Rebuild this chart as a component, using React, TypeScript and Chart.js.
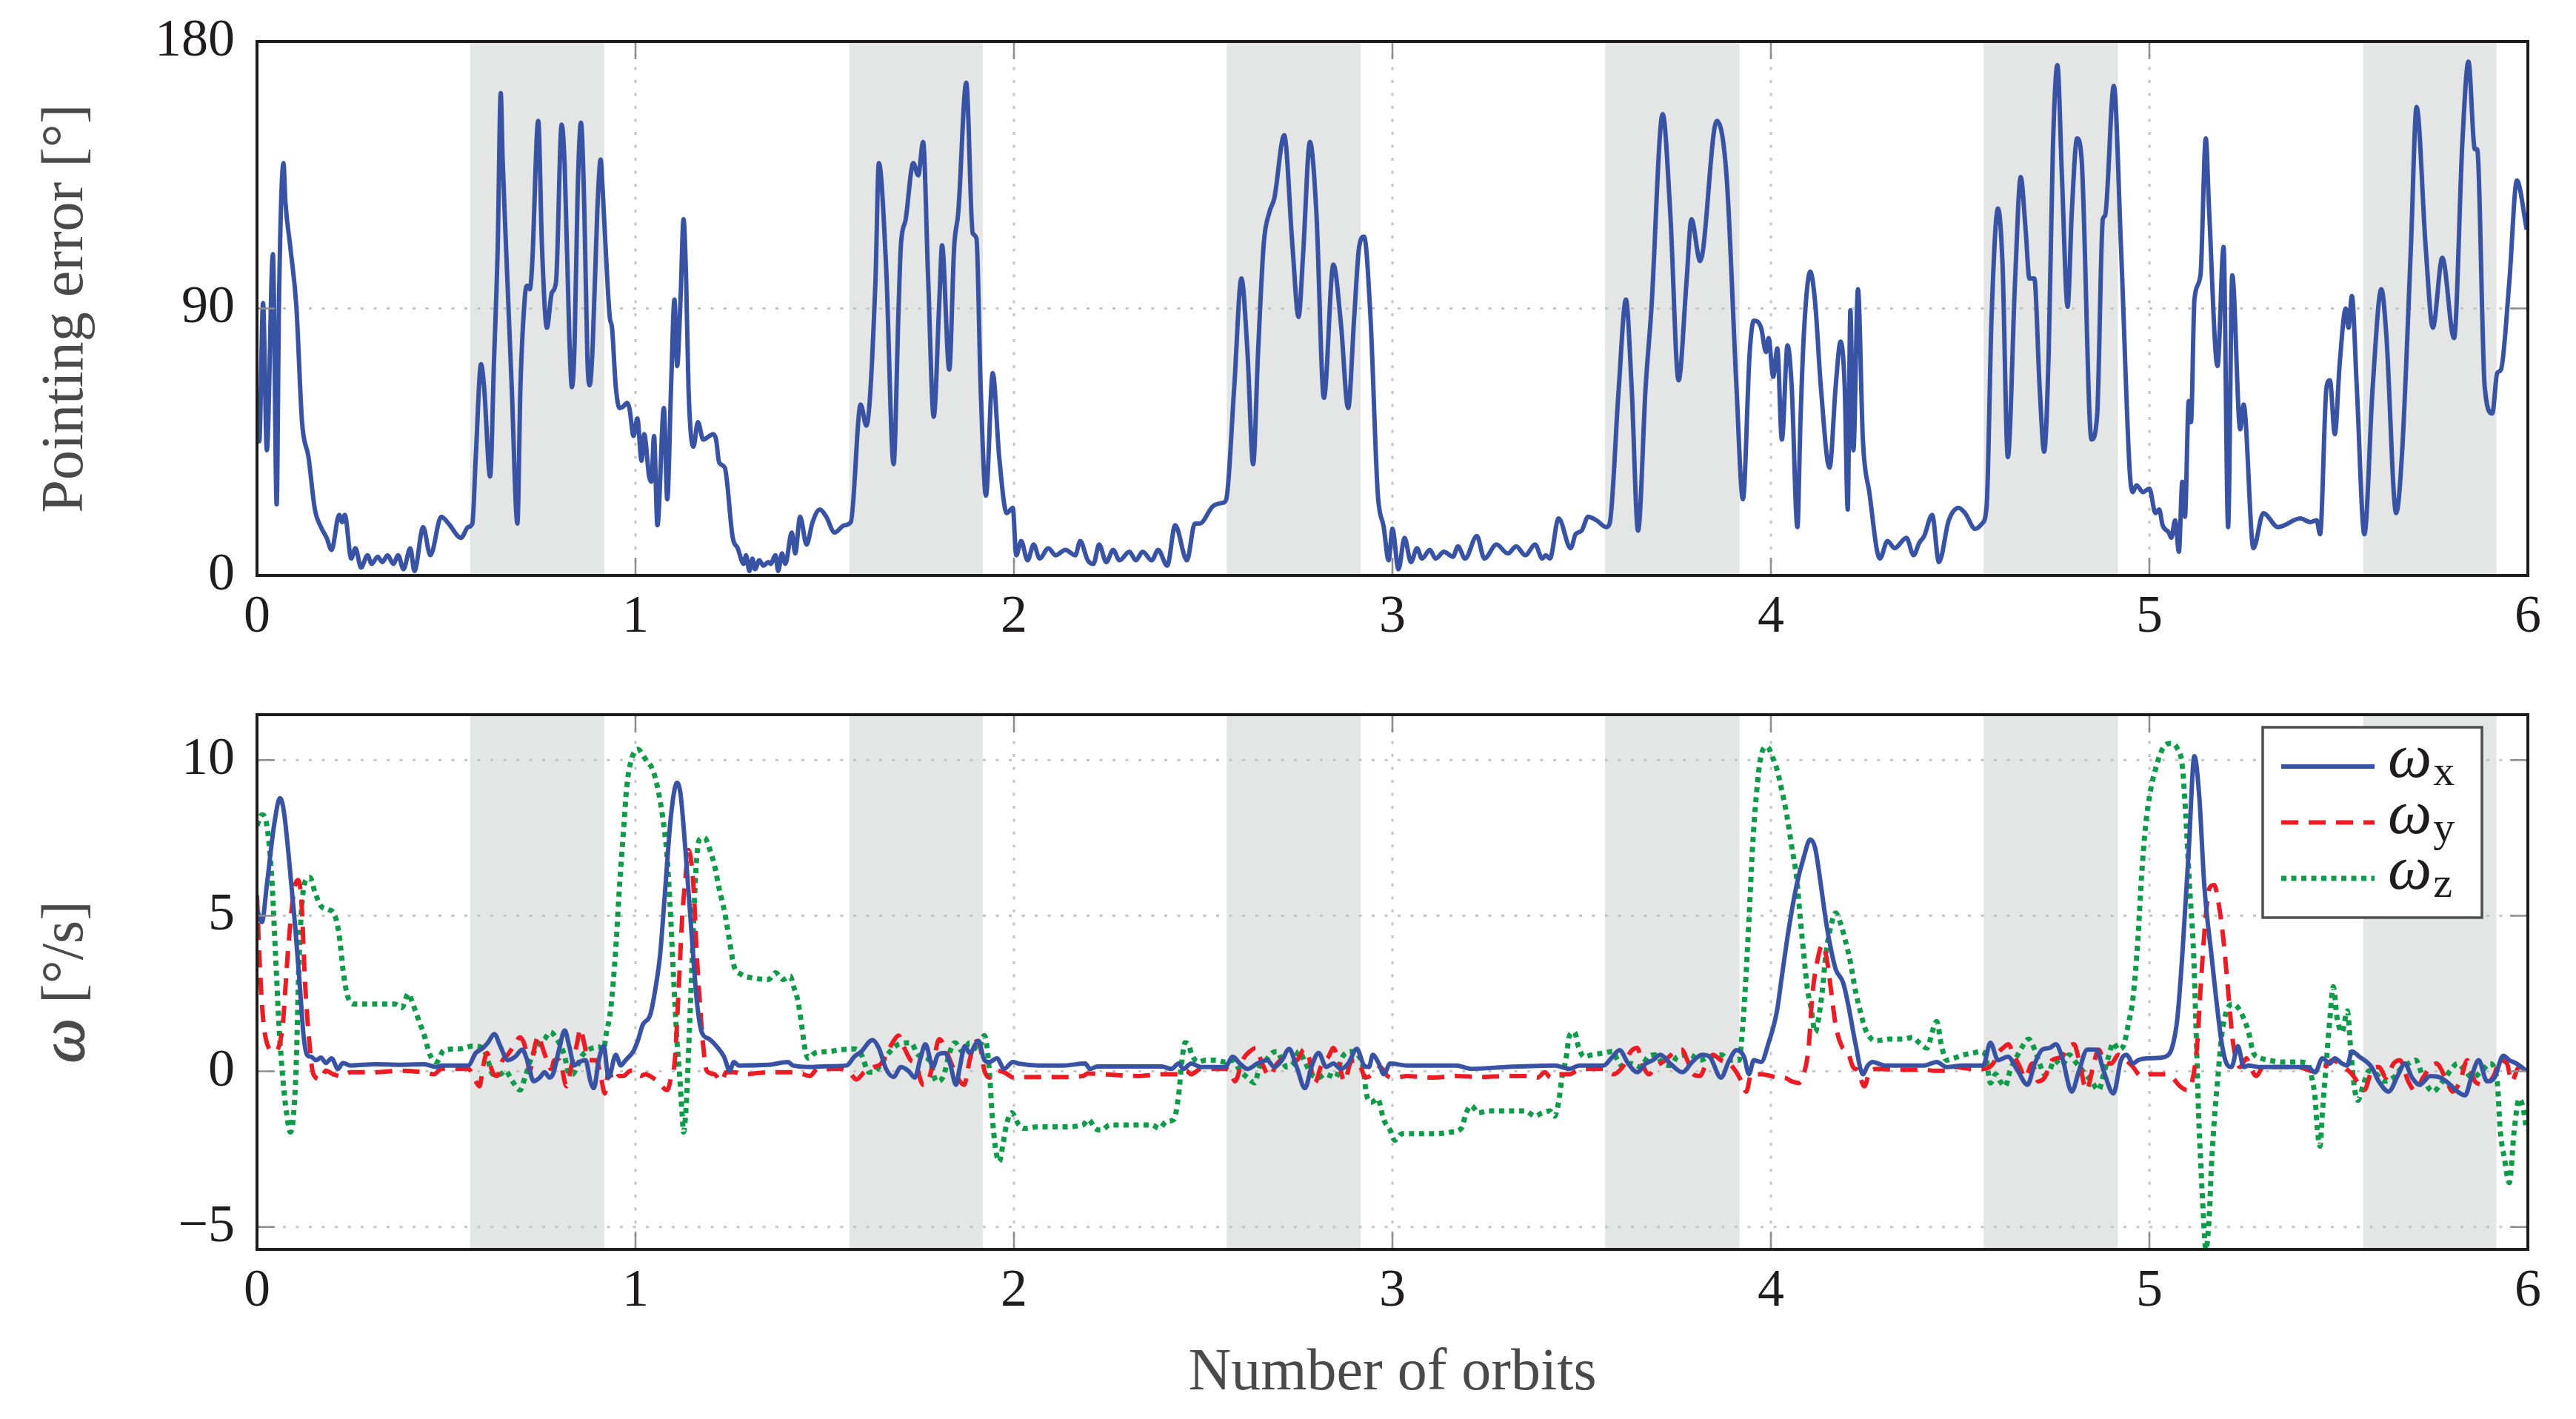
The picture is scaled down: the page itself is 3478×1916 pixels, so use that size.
import React, { useEffect, useRef } from 'react';
import { Chart, registerables } from 'chart.js';

Chart.register(...registerables);

// ---------------- data ----------------
const orbitTicks = [0, 1, 2, 3, 4, 5, 6];
const eclipseStart = [0.563, 1.565, 2.562, 3.562, 4.562, 5.565];
const eclipseEnd = [0.918, 1.918, 2.916, 3.917, 4.917, 5.917];

// [orbit, pointing error in degrees]
const pointingError: [number, number][] = [
  [0.000,58.8],[0.006,45.2],[0.016,91.8],[0.026,42.2],[0.042,108.3],[0.052,24.0],[0.058,91.8],[0.070,139.0],[0.075,126.0],[0.088,110.7],[0.104,90.6],[0.119,51.7],[0.136,39.9],[0.153,22.2],[0.169,16.3],[0.184,12.7],[0.197,8.6],[0.217,20.4],[0.225,18.0],[0.232,20.4],[0.249,5.7],[0.260,9.2],[0.275,2.7],[0.292,6.8],[0.303,3.9],[0.319,6.3],[0.331,4.5],[0.345,6.8],[0.360,3.9],[0.373,6.8],[0.387,2.1],[0.405,9.2],[0.416,1.5],[0.439,16.3],[0.458,6.8],[0.487,19.8],[0.506,17.5],[0.539,12.7],[0.558,16.3],[0.569,17.5],[0.578,39.9],[0.592,71.2],[0.600,63.5],[0.616,33.4],[0.626,71.7],[0.636,110.7],[0.644,162.6],[0.649,140.2],[0.658,110.7],[0.673,63.5],[0.688,17.5],[0.696,63.5],[0.708,94.2],[0.714,97.7],[0.721,96.5],[0.727,104.8],[0.743,153.2],[0.753,110.7],[0.766,83.5],[0.779,95.3],[0.790,98.9],[0.805,152.0],[0.813,137.8],[0.825,81.2],[0.832,63.5],[0.839,77.6],[0.847,128.4],[0.856,152.6],[0.865,122.5],[0.873,72.9],[0.879,64.1],[0.887,77.6],[0.899,122.5],[0.908,140.2],[0.913,130.7],[0.922,108.3],[0.932,87.1],[0.938,83.5],[0.948,63.5],[0.958,56.4],[0.968,57.0],[0.978,58.2],[0.984,56.4],[0.995,47.0],
  [1.005,52.9],[1.016,38.7],[1.023,47.6],[1.036,33.4],[1.042,31.6],[1.049,47.0],[1.058,16.9],[1.075,56.4],[1.084,25.7],[1.094,63.5],[1.103,93.0],[1.110,70.6],[1.119,93.0],[1.127,120.1],[1.134,98.9],[1.140,63.5],[1.153,43.4],[1.165,51.7],[1.179,45.8],[1.195,47.0],[1.205,47.6],[1.213,45.8],[1.221,38.1],[1.236,36.3],[1.257,12.7],[1.270,9.2],[1.286,3.9],[1.292,6.8],[1.301,1.5],[1.309,5.7],[1.316,2.1],[1.327,5.1],[1.338,3.3],[1.351,4.5],[1.357,3.9],[1.370,6.8],[1.377,1.5],[1.387,7.4],[1.396,3.9],[1.413,14.5],[1.422,7.4],[1.435,19.8],[1.452,10.4],[1.468,18.0],[1.487,22.2],[1.504,19.8],[1.526,14.5],[1.552,16.9],[1.569,18.0],[1.595,57.6],[1.610,50.5],[1.634,98.9],[1.643,139.0],[1.662,104.8],[1.682,37.5],[1.695,89.4],[1.701,110.7],[1.714,120.1],[1.734,139.0],[1.747,134.9],[1.760,146.1],[1.773,101.2],[1.788,53.5],[1.803,93.0],[1.810,111.3],[1.829,69.4],[1.842,110.7],[1.853,122.5],[1.874,166.1],[1.891,115.4],[1.901,113.6],[1.912,63.5],[1.926,26.9],[1.944,68.2],[1.961,39.9],[1.981,21.0],[1.997,22.8],
  [2.006,6.8],[2.019,11.6],[2.036,5.1],[2.052,10.4],[2.068,5.7],[2.091,9.2],[2.110,6.8],[2.136,8.6],[2.162,6.8],[2.175,11.6],[2.195,5.1],[2.210,3.9],[2.225,10.4],[2.244,4.5],[2.262,8.6],[2.279,5.1],[2.305,8.0],[2.322,5.1],[2.340,8.0],[2.364,5.1],[2.381,8.6],[2.405,3.3],[2.426,16.9],[2.457,5.1],[2.478,17.5],[2.491,17.5],[2.526,23.4],[2.552,24.5],[2.561,25.7],[2.582,63.5],[2.601,100.1],[2.617,75.3],[2.632,37.5],[2.645,75.3],[2.660,111.9],[2.675,122.5],[2.688,127.2],[2.714,148.4],[2.736,110.7],[2.752,87.1],[2.764,108.3],[2.782,146.1],[2.799,122.5],[2.819,59.9],[2.844,104.8],[2.864,84.7],[2.883,56.4],[2.899,87.1],[2.912,110.7],[2.925,114.2],[2.942,87.1],[2.961,28.1],[2.977,16.3],[2.990,5.1],
  [3.000,15.7],[3.016,2.1],[3.032,12.7],[3.049,4.5],[3.065,9.2],[3.078,5.7],[3.099,8.6],[3.114,5.7],[3.136,8.0],[3.160,6.3],[3.173,9.8],[3.192,5.7],[3.223,13.3],[3.243,5.7],[3.275,10.4],[3.305,7.4],[3.327,9.8],[3.351,6.8],[3.377,10.4],[3.396,5.7],[3.405,6.8],[3.416,5.7],[3.439,19.2],[3.471,9.2],[3.484,13.9],[3.500,15.1],[3.517,19.8],[3.539,18.6],[3.565,16.3],[3.574,17.5],[3.597,61.1],[3.617,93.0],[3.632,63.5],[3.649,15.1],[3.669,63.5],[3.684,89.4],[3.714,155.5],[3.734,122.5],[3.756,65.8],[3.777,98.9],[3.790,120.1],[3.813,106.0],[3.857,153.2],[3.883,134.3],[3.909,63.5],[3.926,25.7],[3.944,75.3],[3.955,85.9],[3.974,83.5],[3.987,75.3],[3.994,80.0],
  [4.006,67.0],[4.017,76.5],[4.029,45.8],[4.044,77.6],[4.055,63.5],[4.070,16.3],[4.078,51.7],[4.087,81.2],[4.104,102.4],[4.117,91.8],[4.132,63.5],[4.155,36.3],[4.171,63.5],[4.184,78.8],[4.195,63.5],[4.203,22.2],[4.210,89.4],[4.218,42.2],[4.230,96.5],[4.243,45.8],[4.260,28.1],[4.288,5.7],[4.308,11.6],[4.327,9.2],[4.358,12.7],[4.377,6.8],[4.392,11.0],[4.405,13.3],[4.426,20.4],[4.444,4.5],[4.470,18.6],[4.496,22.8],[4.513,21.0],[4.540,15.7],[4.558,17.5],[4.570,23.4],[4.583,87.1],[4.600,123.7],[4.612,104.8],[4.626,39.9],[4.645,98.9],[4.660,134.3],[4.673,116.6],[4.683,100.1],[4.696,100.1],[4.710,63.5],[4.722,41.7],[4.734,75.3],[4.745,143.7],[4.757,172.0],[4.769,134.3],[4.784,90.6],[4.795,122.5],[4.809,147.3],[4.821,140.2],[4.847,45.8],[4.862,54.0],[4.877,120.1],[4.883,121.3],[4.906,165.0],[4.925,110.7],[4.948,35.2],[4.956,28.1],[4.966,30.4],[4.983,28.1],
  [5.000,29.3],[5.016,21.0],[5.026,22.2],[5.035,16.9],[5.051,14.5],[5.058,12.7],[5.068,18.6],[5.078,8.0],[5.087,31.6],[5.094,19.8],[5.104,58.8],[5.110,51.7],[5.119,93.0],[5.135,101.2],[5.149,147.3],[5.158,122.5],[5.180,70.6],[5.196,110.7],[5.208,16.3],[5.219,101.2],[5.240,49.3],[5.249,57.6],[5.275,9.2],[5.301,21.0],[5.340,16.3],[5.399,19.2],[5.425,18.0],[5.442,18.6],[5.451,13.9],[5.468,63.5],[5.477,65.8],[5.490,47.6],[5.503,71.7],[5.519,90.0],[5.526,83.5],[5.535,94.2],[5.548,63.5],[5.568,13.9],[5.590,63.5],[5.613,96.5],[5.626,81.2],[5.652,21.0],[5.668,42.2],[5.691,110.7],[5.706,157.9],[5.730,110.7],[5.749,83.5],[5.774,107.1],[5.805,80.0],[5.827,146.1],[5.843,173.2],[5.860,143.7],[5.866,143.7],[5.886,63.5],[5.906,54.6],[5.919,68.2],[5.929,69.4],[5.951,98.9],[5.971,133.1],[5.997,116.6],
];

// [orbit, angular rate in deg/s]
const omegaX: [number, number][] = [
  [0.000,5.20],[0.013,4.80],[0.026,5.99],[0.045,7.90],[0.061,8.78],[0.071,8.35],[0.084,6.89],[0.101,4.64],[0.114,2.61],[0.123,1.15],[0.132,0.53],[0.143,0.47],[0.156,0.36],[0.169,0.44],[0.182,0.27],[0.197,0.42],[0.214,0.08],[0.227,0.27],[0.247,0.19],[0.312,0.23],[0.377,0.21],[0.442,0.23],[0.474,0.14],[0.487,0.19],[0.558,0.19],[0.578,0.59],[0.597,0.75],[0.610,0.92],[0.627,1.20],[0.643,0.81],[0.662,0.36],[0.682,0.47],[0.701,0.70],[0.714,0.36],[0.731,-0.32],[0.747,-0.20],[0.760,-0.03],[0.773,-0.20],[0.782,-0.09],[0.799,0.75],[0.813,1.32],[0.825,0.81],[0.838,0.19],[0.851,0.30],[0.868,0.36],[0.881,-0.32],[0.890,-0.54],[0.903,0.36],[0.916,0.81],[0.929,-0.20],[0.948,0.53],[0.961,0.19],[0.974,0.36],[0.994,0.64],
  [1.006,0.98],[1.019,1.49],[1.039,1.82],[1.052,2.61],[1.065,3.74],[1.078,5.76],[1.094,8.24],[1.110,9.27],[1.119,8.91],[1.132,7.11],[1.149,4.30],[1.162,2.27],[1.175,1.26],[1.195,1.04],[1.214,0.81],[1.234,0.47],[1.249,0.02],[1.260,0.30],[1.273,0.19],[1.351,0.21],[1.403,0.30],[1.416,0.19],[1.468,0.14],[1.494,0.16],[1.558,0.19],[1.578,0.47],[1.597,0.64],[1.626,1.01],[1.643,0.75],[1.662,0.08],[1.682,-0.18],[1.701,0.14],[1.721,0.02],[1.738,-0.20],[1.753,0.42],[1.766,0.87],[1.786,0.14],[1.799,0.53],[1.818,0.59],[1.831,0.25],[1.847,-0.43],[1.857,0.14],[1.870,0.81],[1.883,0.59],[1.906,0.98],[1.922,0.36],[1.935,0.30],[1.955,0.42],[1.974,0.08],[1.997,0.30],
  [2.013,0.25],[2.065,0.19],[2.130,0.19],[2.188,0.25],[2.201,0.08],[2.221,0.16],[2.390,0.16],[2.416,0.08],[2.435,0.25],[2.448,0.08],[2.468,0.25],[2.494,0.14],[2.558,0.14],[2.578,0.47],[2.597,0.25],[2.617,0.08],[2.643,0.25],[2.669,0.36],[2.688,0.14],[2.708,0.36],[2.727,0.72],[2.747,0.14],[2.769,-0.54],[2.786,0.14],[2.805,0.59],[2.825,0.14],[2.844,0.25],[2.864,0.08],[2.883,0.25],[2.906,0.72],[2.925,0.19],[2.938,0.14],[2.948,0.53],[2.964,0.25],[2.977,-0.09],[2.994,0.25],
  [3.039,0.19],[3.169,0.19],[3.208,0.08],[3.299,0.14],[3.429,0.19],[3.468,0.08],[3.494,0.19],[3.558,0.19],[3.578,0.42],[3.600,0.68],[3.623,0.25],[3.647,-0.03],[3.669,0.25],[3.688,0.36],[3.708,0.53],[3.734,0.25],[3.766,-0.03],[3.792,0.30],[3.818,0.53],[3.838,0.47],[3.868,-0.20],[3.890,0.36],[3.909,0.68],[3.929,0.47],[3.942,-0.09],[3.955,0.36],[3.974,0.30],[3.994,0.92],
  [4.016,1.94],[4.029,3.06],[4.048,4.64],[4.068,5.99],[4.087,6.89],[4.104,7.45],[4.117,7.17],[4.132,5.99],[4.145,4.86],[4.158,3.96],[4.171,3.29],[4.191,2.84],[4.204,2.16],[4.223,0.92],[4.243,-0.09],[4.256,0.19],[4.269,0.30],[4.301,0.19],[4.405,0.19],[4.438,0.30],[4.464,0.14],[4.509,0.19],[4.561,0.19],[4.580,0.92],[4.600,0.36],[4.626,0.47],[4.652,0.02],[4.678,-0.43],[4.697,0.25],[4.717,0.70],[4.736,0.75],[4.753,0.87],[4.769,0.47],[4.795,-0.65],[4.814,0.02],[4.836,0.70],[4.860,0.70],[4.879,0.02],[4.905,-0.71],[4.925,0.36],[4.940,0.53],[4.957,0.25],[4.970,0.36],
  [5.003,0.42],[5.042,0.47],[5.061,0.81],[5.074,1.71],[5.087,3.74],[5.104,7.11],[5.119,10.13],[5.132,8.80],[5.145,5.99],[5.164,3.74],[5.191,0.92],[5.204,0.25],[5.217,0.14],[5.234,0.81],[5.249,0.14],[5.262,0.19],[5.288,0.14],[5.418,0.14],[5.438,-0.03],[5.457,0.42],[5.477,0.25],[5.490,0.42],[5.509,0.25],[5.523,0.19],[5.535,0.64],[5.555,0.47],[5.587,0.14],[5.606,-0.32],[5.632,-0.65],[5.658,-0.09],[5.675,0.25],[5.694,-0.20],[5.714,-0.43],[5.742,-0.15],[5.769,-0.20],[5.795,-0.43],[5.814,-0.65],[5.834,-0.77],[5.853,-0.09],[5.870,0.36],[5.892,-0.32],[5.912,-0.20],[5.935,0.50],[5.951,0.36],[5.970,0.25],[5.996,0.02],
];

const omegaY: [number, number][] = [
  [0.000,5.65],[0.006,3.74],[0.016,1.71],[0.029,0.81],[0.045,0.64],[0.058,0.81],[0.068,1.49],[0.081,3.74],[0.097,5.76],[0.108,6.15],[0.117,5.54],[0.127,2.84],[0.136,1.26],[0.149,-0.09],[0.169,-0.26],[0.182,0.02],[0.201,-0.09],[0.221,-0.15],[0.247,-0.03],[0.312,-0.03],[0.377,0.02],[0.442,-0.03],[0.468,-0.09],[0.487,0.08],[0.558,0.08],[0.578,-0.32],[0.588,-0.48],[0.597,0.14],[0.608,0.59],[0.621,0.02],[0.634,-0.15],[0.649,0.36],[0.662,0.53],[0.678,0.81],[0.695,1.09],[0.708,0.81],[0.721,0.02],[0.734,0.81],[0.744,1.15],[0.753,0.81],[0.766,0.36],[0.777,0.08],[0.786,0.36],[0.799,0.36],[0.818,-0.48],[0.831,0.19],[0.844,0.81],[0.855,1.37],[0.864,0.92],[0.877,0.36],[0.896,0.36],[0.909,-0.20],[0.919,-0.71],[0.929,0.02],[0.942,-0.32],[0.955,-0.15],[0.968,-0.15],[0.987,0.02],
  [1.000,0.02],[1.013,-0.15],[1.026,-0.09],[1.045,-0.20],[1.058,-0.32],[1.084,-0.60],[1.094,-0.20],[1.104,0.36],[1.114,2.61],[1.123,4.86],[1.132,6.21],[1.140,7.11],[1.147,6.77],[1.153,5.99],[1.162,3.74],[1.171,2.05],[1.179,0.81],[1.188,0.02],[1.208,-0.09],[1.227,-0.32],[1.240,-0.03],[1.260,-0.03],[1.286,-0.09],[1.351,-0.03],[1.416,-0.03],[1.442,-0.09],[1.461,-0.15],[1.481,0.08],[1.545,0.08],[1.565,-0.03],[1.584,-0.26],[1.604,-0.03],[1.630,0.14],[1.649,0.25],[1.669,0.70],[1.682,0.98],[1.695,1.15],[1.708,0.81],[1.727,0.36],[1.740,0.25],[1.760,-0.43],[1.773,-0.32],[1.786,0.25],[1.803,1.04],[1.816,0.81],[1.831,0.36],[1.851,-0.20],[1.868,-0.43],[1.883,0.36],[1.896,0.92],[1.906,0.98],[1.922,0.02],[1.935,-0.20],[1.955,0.02],[1.974,-0.03],
  [2.000,-0.20],[2.026,-0.18],[2.078,-0.18],[2.130,-0.18],[2.182,-0.15],[2.195,-0.07],[2.260,-0.11],[2.325,-0.15],[2.390,-0.09],[2.442,-0.09],[2.455,0.02],[2.468,-0.09],[2.494,0.08],[2.558,0.08],[2.571,0.02],[2.584,-0.32],[2.604,0.36],[2.623,0.64],[2.639,0.75],[2.656,0.25],[2.675,-0.15],[2.695,0.25],[2.721,0.47],[2.747,0.36],[2.766,0.70],[2.779,0.47],[2.795,-0.37],[2.812,0.19],[2.831,0.47],[2.844,0.75],[2.857,0.36],[2.873,-0.32],[2.890,0.30],[2.903,0.36],[2.916,0.14],[2.929,-0.20],[2.948,-0.09],[2.968,0.14],[2.987,-0.15],
  [3.006,-0.20],[3.039,-0.15],[3.104,-0.20],[3.169,-0.15],[3.234,-0.18],[3.299,-0.15],[3.364,-0.15],[3.383,-0.20],[3.403,-0.03],[3.418,-0.20],[3.442,-0.09],[3.468,-0.09],[3.487,0.02],[3.519,0.08],[3.558,0.08],[3.584,-0.09],[3.608,0.14],[3.630,0.64],[3.647,0.75],[3.662,0.19],[3.678,-0.09],[3.695,0.14],[3.721,0.36],[3.747,0.64],[3.764,0.70],[3.779,0.36],[3.795,-0.09],[3.812,-0.15],[3.831,0.30],[3.847,0.53],[3.868,0.36],[3.890,0.25],[3.909,-0.03],[3.922,-0.32],[3.935,-0.65],[3.948,-0.09],[3.974,-0.09],
  [4.000,-0.15],[4.019,-0.20],[4.035,-0.20],[4.055,-0.32],[4.074,-0.37],[4.087,-0.09],[4.100,0.81],[4.109,2.39],[4.122,3.51],[4.136,4.07],[4.149,3.51],[4.161,2.39],[4.171,1.49],[4.187,0.81],[4.204,0.59],[4.217,0.14],[4.230,0.02],[4.247,-0.48],[4.262,0.02],[4.282,0.08],[4.340,0.05],[4.405,0.05],[4.431,0.02],[4.464,0.02],[4.483,0.14],[4.535,0.08],[4.561,0.08],[4.587,0.25],[4.600,0.59],[4.613,0.75],[4.628,0.87],[4.639,0.59],[4.658,0.14],[4.671,-0.20],[4.691,0.25],[4.706,-0.32],[4.723,-0.20],[4.743,0.36],[4.769,0.47],[4.788,0.81],[4.801,0.87],[4.814,0.36],[4.834,-0.60],[4.853,0.25],[4.866,0.70],[4.879,0.36],[4.899,0.25],[4.918,0.53],[4.938,0.36],[4.957,0.14],[4.977,-0.15],
  [5.003,-0.09],[5.042,-0.09],[5.061,-0.20],[5.081,-0.48],[5.100,-0.60],[5.113,-0.32],[5.126,0.81],[5.135,2.61],[5.148,4.86],[5.158,5.87],[5.171,5.99],[5.184,5.31],[5.195,4.30],[5.208,2.61],[5.221,0.92],[5.240,0.14],[5.256,0.42],[5.269,0.08],[5.282,-0.15],[5.301,0.14],[5.340,0.14],[5.392,0.14],[5.425,0.02],[5.444,-0.03],[5.464,0.14],[5.483,0.36],[5.509,0.19],[5.535,-0.09],[5.555,-0.43],[5.568,-0.60],[5.587,0.02],[5.606,0.14],[5.626,-0.20],[5.645,0.25],[5.662,0.36],[5.684,-0.32],[5.704,-0.65],[5.723,-0.20],[5.758,0.25],[5.782,-0.20],[5.801,-0.65],[5.821,-0.32],[5.840,0.36],[5.860,-0.32],[5.886,-0.43],[5.912,-0.09],[5.925,0.36],[5.945,0.25],[5.957,-0.32],[5.977,0.14],[5.996,0.02],
];

const omegaZ: [number, number][] = [
  [0.000,7.90],[0.013,8.24],[0.026,7.90],[0.039,6.21],[0.049,3.74],[0.058,1.49],[0.068,-0.20],[0.078,-1.33],[0.088,-1.95],[0.097,-1.33],[0.104,0.36],[0.110,3.17],[0.117,5.09],[0.127,6.10],[0.140,6.23],[0.153,5.76],[0.169,5.31],[0.188,5.20],[0.205,5.03],[0.218,4.30],[0.227,3.29],[0.240,2.39],[0.260,2.16],[0.299,2.16],[0.338,2.16],[0.364,2.16],[0.383,2.05],[0.400,2.50],[0.409,2.27],[0.422,1.82],[0.442,1.15],[0.457,0.53],[0.474,0.30],[0.494,0.68],[0.532,0.72],[0.571,0.81],[0.597,0.75],[0.610,0.36],[0.623,-0.09],[0.643,-0.09],[0.656,0.02],[0.675,-0.32],[0.695,-0.60],[0.708,-0.20],[0.721,0.30],[0.740,0.81],[0.760,1.04],[0.775,1.26],[0.792,1.04],[0.812,0.53],[0.825,-0.09],[0.834,-0.09],[0.847,0.19],[0.857,0.47],[0.870,0.64],[0.886,0.75],[0.903,0.79],[0.916,0.70],[0.922,1.15],[0.935,2.05],[0.948,3.96],[0.958,5.99],[0.968,7.67],[0.977,9.14],[0.987,9.92],
  [1.006,10.35],[1.026,10.04],[1.045,9.70],[1.058,9.14],[1.071,8.24],[1.082,7.11],[1.091,5.42],[1.100,3.17],[1.110,0.92],[1.117,-0.20],[1.123,-1.33],[1.127,-1.95],[1.134,-1.10],[1.143,1.49],[1.152,4.30],[1.160,6.55],[1.169,7.45],[1.182,7.51],[1.197,7.11],[1.210,6.55],[1.221,5.87],[1.236,5.09],[1.247,4.30],[1.260,3.40],[1.279,3.12],[1.312,3.00],[1.351,2.95],[1.370,3.17],[1.390,2.95],[1.409,3.06],[1.418,2.72],[1.429,2.27],[1.439,1.49],[1.448,0.70],[1.457,0.42],[1.474,0.59],[1.513,0.64],[1.545,0.70],[1.578,0.72],[1.597,0.53],[1.617,-0.03],[1.630,-0.03],[1.649,0.25],[1.669,0.59],[1.695,0.87],[1.727,0.92],[1.747,0.53],[1.764,0.47],[1.779,0.30],[1.795,-0.32],[1.812,-0.20],[1.831,0.64],[1.844,0.92],[1.864,0.64],[1.883,0.92],[1.906,0.70],[1.922,1.15],[1.935,0.02],[1.942,-1.33],[1.951,-2.45],[1.961,-2.90],[1.971,-2.34],[1.981,-1.67],[1.994,-1.33],
  [2.013,-1.72],[2.026,-1.83],[2.065,-1.78],[2.130,-1.78],[2.182,-1.72],[2.197,-1.55],[2.214,-1.83],[2.231,-1.89],[2.253,-1.72],[2.325,-1.72],[2.364,-1.72],[2.384,-1.83],[2.403,-1.61],[2.422,-1.55],[2.435,-0.77],[2.444,0.36],[2.452,0.92],[2.461,0.87],[2.470,0.53],[2.487,0.30],[2.506,0.36],[2.532,0.36],[2.558,0.30],[2.578,0.36],[2.597,0.02],[2.617,-0.20],[2.636,-0.37],[2.649,0.14],[2.662,0.30],[2.682,0.59],[2.695,0.64],[2.708,0.36],[2.721,0.14],[2.738,0.25],[2.753,0.64],[2.769,0.30],[2.786,-0.09],[2.805,-0.20],[2.821,-0.09],[2.838,-0.15],[2.851,-0.20],[2.864,0.36],[2.877,0.59],[2.896,0.64],[2.909,0.53],[2.922,0.14],[2.932,-0.77],[2.945,-0.99],[2.961,-0.88],[2.977,-1.55],[2.994,-1.89],
  [3.006,-2.21],[3.026,-2.00],[3.065,-2.00],[3.117,-2.00],[3.156,-1.95],[3.182,-1.83],[3.195,-1.33],[3.208,-1.10],[3.227,-1.33],[3.253,-1.27],[3.299,-1.27],[3.351,-1.27],[3.377,-1.44],[3.396,-1.33],[3.416,-1.27],[3.429,-1.44],[3.439,-0.99],[3.448,-0.20],[3.458,0.36],[3.468,1.15],[3.481,1.26],[3.491,0.81],[3.506,0.47],[3.526,0.53],[3.558,0.59],[3.582,0.64],[3.595,0.36],[3.610,0.14],[3.630,0.25],[3.656,0.14],[3.675,0.47],[3.695,0.53],[3.714,0.25],[3.734,0.19],[3.753,0.47],[3.786,0.53],[3.812,0.36],[3.838,0.47],[3.870,0.53],[3.890,0.36],[3.916,0.36],[3.922,0.92],[3.932,2.61],[3.942,4.86],[3.951,7.11],[3.961,8.80],[3.974,10.15],[3.990,10.43],
  [4.006,10.04],[4.016,9.70],[4.029,9.02],[4.042,8.24],[4.055,7.22],[4.068,6.21],[4.078,4.86],[4.087,3.74],[4.097,2.61],[4.106,2.05],[4.117,1.26],[4.126,1.71],[4.136,2.61],[4.145,3.74],[4.158,4.64],[4.171,5.09],[4.184,4.75],[4.197,4.19],[4.210,3.51],[4.223,2.61],[4.236,1.94],[4.249,1.37],[4.262,1.09],[4.275,0.98],[4.314,1.04],[4.353,1.04],[4.373,1.09],[4.392,0.92],[4.412,0.75],[4.429,1.37],[4.438,1.60],[4.451,0.81],[4.464,0.36],[4.483,0.42],[4.509,0.53],[4.535,0.59],[4.555,0.64],[4.568,0.47],[4.580,-0.37],[4.594,-0.09],[4.606,-0.32],[4.619,-0.48],[4.632,0.02],[4.645,0.36],[4.665,0.81],[4.681,1.04],[4.697,0.70],[4.710,0.25],[4.723,-0.09],[4.736,0.02],[4.749,0.36],[4.769,0.19],[4.788,0.53],[4.808,0.25],[4.831,-0.09],[4.847,-0.32],[4.866,-0.60],[4.879,-0.09],[4.892,0.47],[4.905,0.92],[4.918,0.70],[4.931,0.81],[4.944,1.49],[4.957,2.39],[4.970,4.30],[4.979,6.21],[4.990,7.90],
  [5.003,9.02],[5.016,9.70],[5.035,10.37],[5.055,10.54],[5.074,10.37],[5.087,9.81],[5.096,8.24],[5.106,5.99],[5.117,3.74],[5.123,1.49],[5.130,-1.33],[5.136,-3.02],[5.143,-4.70],[5.149,-5.72],[5.158,-4.70],[5.164,-3.02],[5.173,-1.33],[5.181,-0.20],[5.191,1.15],[5.204,1.94],[5.221,2.16],[5.234,2.05],[5.249,1.71],[5.262,1.26],[5.275,0.59],[5.295,0.42],[5.314,0.36],[5.353,0.30],[5.392,0.30],[5.418,0.25],[5.431,-0.32],[5.438,-0.88],[5.444,-1.89],[5.451,-2.40],[5.457,-1.33],[5.468,0.36],[5.477,1.71],[5.486,2.72],[5.496,1.71],[5.509,1.26],[5.523,1.94],[5.532,0.70],[5.542,-0.54],[5.551,-0.93],[5.564,-0.48],[5.581,0.02],[5.600,-0.09],[5.619,-0.32],[5.645,-0.20],[5.668,0.14],[5.684,0.25],[5.704,0.36],[5.723,-0.20],[5.749,-0.65],[5.775,-0.32],[5.795,0.02],[5.814,0.25],[5.834,0.02],[5.853,-0.20],[5.879,0.02],[5.899,0.25],[5.919,-0.32],[5.927,-1.89],[5.938,-2.79],[5.951,-3.58],[5.964,-1.89],[5.977,-0.88],[5.990,-1.33],[5.996,-1.89],
];

const seriesLabels = ['ω', 'ω', 'ω'];
const seriesSubscripts = ['x', 'y', 'z'];
const pointingTicks = [0, 90, 180];
const rateTicks = [-5, 0, 5, 10];

// ---------------- styling ----------------
const W = 3478;
const H = 1916;
const TOP_H = 920;
const BOT_H = H - TOP_H;
const FONT = '"Liberation Serif", "Times New Roman", serif';
const INK = '#1f1c1d';
const TITLE_INK = '#4a4a4a';
const BAND = '#e4e6e5';
const GRID = '#c4c4c4';
const TICKMARK = '#8e8e8e';
const BLUE = '#3953a4';
const RED = '#ed1c24';
const GREEN = '#0f9b4a';

const toXY = (arr: [number, number][]) => arr.map(([x, y]) => ({ x, y }));
const fmt = (v: number) => (v < 0 ? '\u2212' + Math.abs(v) : String(v));

function panelPlugin(withLegend: boolean, rateTitle: boolean) {
  return {
    id: 'panelDecor',
    beforeDatasetsDraw(chart: any) {
      const { ctx, chartArea: a, scales } = chart;
      const xs = scales.x;
      const ys = scales.y;
      ctx.save();
      ctx.fillStyle = BAND;
      eclipseStart.forEach((s, i) => {
        const x0 = xs.getPixelForValue(s);
        const x1 = xs.getPixelForValue(eclipseEnd[i]);
        ctx.fillRect(x0, a.top, x1 - x0, a.bottom - a.top);
      });
      ctx.strokeStyle = GRID;
      ctx.lineWidth = 3;
      ctx.setLineDash([4, 13.5]);
      xs.ticks.forEach((t: any) => {
        const px = xs.getPixelForValue(t.value);
        if (px < a.left + 2 || px > a.right - 2) return;
        ctx.beginPath();
        ctx.moveTo(px, a.bottom);
        ctx.lineTo(px, a.top);
        ctx.stroke();
      });
      ys.ticks.forEach((t: any) => {
        const py = ys.getPixelForValue(t.value);
        if (py < a.top + 2 || py > a.bottom - 2) return;
        ctx.beginPath();
        ctx.moveTo(a.left, py);
        ctx.lineTo(a.right, py);
        ctx.stroke();
      });
      ctx.restore();
    },
    afterDatasetsDraw(chart: any) {
      const { ctx, chartArea: a, scales } = chart;
      const xs = scales.x;
      const ys = scales.y;
      const L = 24;
      ctx.save();
      ctx.setLineDash([]);
      ctx.strokeStyle = TICKMARK;
      ctx.lineWidth = 2.5;
      xs.ticks.forEach((t: any) => {
        const px = xs.getPixelForValue(t.value);
        ctx.beginPath();
        ctx.moveTo(px, a.bottom); ctx.lineTo(px, a.bottom - L);
        ctx.moveTo(px, a.top); ctx.lineTo(px, a.top + L);
        ctx.stroke();
      });
      ys.ticks.forEach((t: any) => {
        const py = ys.getPixelForValue(t.value);
        ctx.beginPath();
        ctx.moveTo(a.left, py); ctx.lineTo(a.left + L, py);
        ctx.moveTo(a.right, py); ctx.lineTo(a.right - L, py);
        ctx.stroke();
      });
      ctx.strokeStyle = INK;
      ctx.lineWidth = 4;
      ctx.strokeRect(a.left, a.top, a.right - a.left, a.bottom - a.top);
      ctx.restore();
    },
    afterDraw(chart: any) {
      const { ctx, chartArea: a } = chart;
      if (rateTitle) {
        ctx.save();
        ctx.translate(90, (a.top + a.bottom) / 2);
        ctx.rotate(-Math.PI / 2);
        ctx.textBaseline = 'middle';
        ctx.fillStyle = TITLE_INK;
        const f1 = `italic 86px ${FONT}`;
        const f2 = `80px ${FONT}`;
        const t1 = 'ω';
        const t2 = ' [°/s]';
        ctx.font = f1;
        const w1 = ctx.measureText(t1).width;
        ctx.font = f2;
        const w2 = ctx.measureText(t2).width;
        const x0 = -(w1 + w2) / 2;
        ctx.font = f1;
        ctx.lineWidth = 1.2;
        ctx.strokeStyle = TITLE_INK;
        ctx.fillText(t1, x0, 0);
        ctx.strokeText(t1, x0, 0);
        ctx.font = f2;
        ctx.fillText(t2, x0 + w1, 0);
        ctx.restore();
      }
      if (withLegend) {
        const bw = 296;
        const bh = 257;
        const left = a.right - 62 - bw;
        const top = a.top + 17;
        ctx.save();
        ctx.fillStyle = '#ffffff';
        ctx.fillRect(left, top, bw, bh);
        ctx.strokeStyle = '#4d4d4f';
        ctx.lineWidth = 3.5;
        ctx.setLineDash([]);
        ctx.strokeRect(left, top, bw, bh);
        chart.data.datasets.forEach((ds: any, i: number) => {
          const cy = top + 53 + i * 75.5;
          ctx.save();
          ctx.strokeStyle = ds.borderColor;
          ctx.lineWidth = ds.borderWidth;
          ctx.setLineDash(ds.borderDash || []);
          ctx.lineCap = 'butt';
          ctx.beginPath();
          ctx.moveTo(left + 25, cy);
          ctx.lineTo(left + 151, cy);
          ctx.stroke();
          ctx.restore();
          ctx.fillStyle = INK;
          ctx.textBaseline = 'alphabetic';
          ctx.font = `italic 84px ${FONT}`;
          ctx.fillText(seriesLabels[i], left + 169, cy + 14);
          const ws = ctx.measureText(seriesLabels[i]).width;
          ctx.font = `58px ${FONT}`;
          ctx.fillText(seriesSubscripts[i], left + 171 + ws, cy + 25);
        });
        ctx.restore();
      }
    },
  };
}

function xScale(withTitle: boolean, height: number) {
  return {
    type: 'linear' as const,
    min: orbitTicks[0],
    max: orbitTicks[orbitTicks.length - 1],
    grid: { display: false, drawTicks: false },
    border: { display: false },
    afterBuildTicks: (s: any) => { s.ticks = orbitTicks.map((v) => ({ value: v })); },
    ticks: { font: { family: FONT, size: 72 }, color: INK, padding: 14, maxRotation: 0, autoSkip: false },
    title: withTitle
      ? { display: true, text: 'Number of orbits', color: TITLE_INK, font: { family: FONT, size: 80 }, padding: { top: 0, bottom: 13 } }
      : { display: false },
    afterFit: (s: any) => { s.height = height; s.paddingLeft = 0; s.paddingRight = 0; },
  };
}

function yScale(min: number, max: number, ticks: number[], title: string | null) {
  return {
    type: 'linear' as const,
    min,
    max,
    grid: { display: false, drawTicks: false },
    border: { display: false },
    afterBuildTicks: (s: any) => { s.ticks = ticks.map((v) => ({ value: v })); },
    ticks: { font: { family: FONT, size: 72 }, color: INK, padding: 30, callback: (v: any) => fmt(Number(v)) },
    title: title
      ? { display: true, text: title, color: TITLE_INK, font: { family: FONT, size: 80 }, padding: { top: 42, bottom: 0 } }
      : { display: false },
    afterFit: (s: any) => { s.width = 347; s.paddingTop = 0; s.paddingBottom = 0; },
  };
}

export default function App() {
  const topRef = useRef<HTMLCanvasElement>(null);
  const botRef = useRef<HTMLCanvasElement>(null);

  useEffect(() => {
    const lineBase = { pointRadius: 0, pointHoverRadius: 0, cubicInterpolationMode: 'monotone' as const, fill: false };
    const top = new Chart(topRef.current!, {
      type: 'line',
      data: {
        datasets: [
          { ...lineBase, label: 'Pointing error', data: toXY(pointingError), borderColor: BLUE, borderWidth: 6 },
        ],
      },
      options: {
        animation: false,
        responsive: false,
        maintainAspectRatio: false,
        events: [],
        layout: { padding: { top: 56, right: 65, left: 0, bottom: 0 } },
        plugins: { legend: { display: false }, tooltip: { enabled: false } },
        scales: {
          x: xScale(false, TOP_H - 777),
          y: yScale(0, 180, pointingTicks, 'Pointing error [°]'),
        },
      } as any,
      plugins: [panelPlugin(false, false)],
    });
    const bot = new Chart(botRef.current!, {
      type: 'line',
      data: {
        datasets: [
          { ...lineBase, label: 'ωx', data: toXY(omegaX), borderColor: BLUE, borderWidth: 6 },
          { ...lineBase, label: 'ωy', data: toXY(omegaY), borderColor: RED, borderWidth: 6, borderDash: [23, 14] },
          { ...lineBase, label: 'ωz', data: toXY(omegaZ), borderColor: GREEN, borderWidth: 7, borderDash: [7, 6.5] },
        ],
      },
      options: {
        animation: false,
        responsive: false,
        maintainAspectRatio: false,
        events: [],
        layout: { padding: { top: 965 - TOP_H, right: 65, left: 0, bottom: 0 } },
        plugins: { legend: { display: false }, tooltip: { enabled: false } },
        scales: {
          x: xScale(true, H - 1687),
          y: yScale(-5.72, 11.46, rateTicks, null),
        },
      } as any,
      plugins: [panelPlugin(true, true)],
    });
    return () => {
      top.destroy();
      bot.destroy();
    };
  }, []);

  return (
    <div style={{ position: 'absolute', left: 0, top: 0, width: W, height: H, background: '#ffffff' }}>
      <canvas ref={topRef} width={W} height={TOP_H} style={{ position: 'absolute', left: 0, top: 0, width: W, height: TOP_H }} />
      <canvas ref={botRef} width={W} height={BOT_H} style={{ position: 'absolute', left: 0, top: TOP_H, width: W, height: BOT_H }} />
    </div>
  );
}
